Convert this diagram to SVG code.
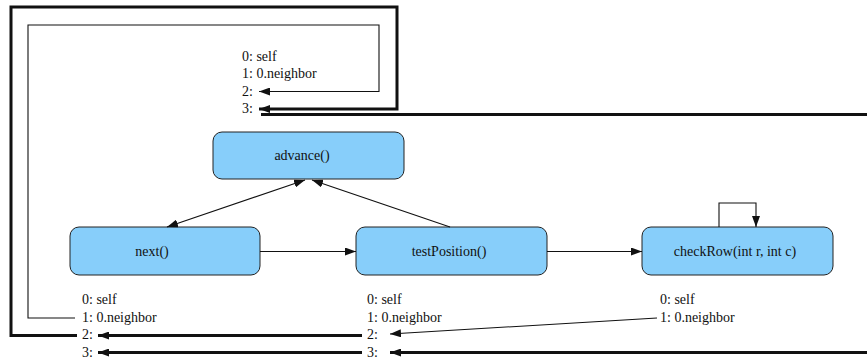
<svg xmlns="http://www.w3.org/2000/svg" width="867" height="362" viewBox="0 0 867 362">
  <style>
    .node rect { fill: #87cefa; stroke: #222; stroke-width: 1; }
    .node text, .slots text { font-family: "Liberation Serif", "Times New Roman", serif; font-size: 14px; fill: #111; }
    .node text { text-anchor: middle; }
    .thin { fill: none; stroke: #111; stroke-width: 1.1; }
    .thick { fill: none; stroke: #111; stroke-width: 3; }
  </style>
  <defs>
    <marker id="arrow" markerUnits="userSpaceOnUse" markerWidth="12" markerHeight="8" refX="11" refY="4" orient="auto">
      <path d="M0,0 L11,4 L0,8 Z" fill="#111"/>
    </marker>
    <marker id="arrow-start" markerUnits="userSpaceOnUse" markerWidth="12" markerHeight="8" refX="1" refY="4" orient="auto">
      <path d="M12,0 L1,4 L12,8 Z" fill="#111"/>
    </marker>
  </defs>

  <!-- slot tables -->
  <g class="slots" id="slots-advance">
    <text x="242" y="60.5">0: self</text>
    <text x="242" y="78">1: 0.neighbor</text>
    <text x="242" y="95.5">2:</text>
    <text x="242" y="113">3:</text>
  </g>
  <g class="slots" id="slots-next">
    <text x="82" y="304">0: self</text>
    <text x="82" y="321.5">1: 0.neighbor</text>
    <text x="82" y="339">2:</text>
    <text x="82" y="356.5">3:</text>
  </g>
  <g class="slots" id="slots-testPosition">
    <text x="367" y="304">0: self</text>
    <text x="367" y="321.5">1: 0.neighbor</text>
    <text x="367" y="339">2:</text>
    <text x="367" y="356.5">3:</text>
  </g>
  <g class="slots" id="slots-checkRow">
    <text x="660" y="304">0: self</text>
    <text x="660" y="321.5">1: 0.neighbor</text>
  </g>

  <!-- nodes -->
  <g class="node" id="advance">
    <rect x="213" y="132" width="191" height="47" rx="9"/>
    <text x="302" y="160">advance()</text>
  </g>
  <g class="node" id="next">
    <rect x="70" y="227" width="190" height="48" rx="9"/>
    <text x="152" y="256">next()</text>
  </g>
  <g class="node" id="testPosition">
    <rect x="356" y="227" width="191" height="48" rx="9"/>
    <text x="449" y="256">testPosition()</text>
  </g>
  <g class="node" id="checkRow">
    <rect x="642" y="227" width="191" height="48" rx="9"/>
    <text x="735" y="256">checkRow(int r, int c)</text>
  </g>

  <!-- connectors -->
  <g id="connectors">
    <!-- call edges -->
    <line class="thin" x1="167" y1="227" x2="305" y2="180" marker-start="url(#arrow-start)" marker-end="url(#arrow)"/>
    <line class="thin" x1="450" y1="227" x2="312" y2="180" marker-end="url(#arrow)"/>
    <line class="thin" x1="260" y1="251.5" x2="356" y2="251.5" marker-end="url(#arrow)"/>
    <line class="thin" x1="547" y1="251.5" x2="642" y2="251.5" marker-end="url(#arrow)"/>
    <polyline class="thin" points="719,227 719,203 756,203 756,227" marker-end="url(#arrow)"/>

    <!-- slot links -->
    <polyline class="thin" points="75,318 28,318 28,25 379,25 379,91.5 259,91.5" marker-end="url(#arrow)"/>
    <polyline class="thick" points="77,335.5 11,335.5 11,7 397,7 397,109 259,109" marker-end="url(#arrow)"/>
    <line class="thick" x1="261" y1="114.5" x2="867" y2="114.5"/>
    <line class="thick" x1="362" y1="335.5" x2="98" y2="335.5" marker-end="url(#arrow)"/>
    <line class="thick" x1="362" y1="352.5" x2="98" y2="352.5" marker-end="url(#arrow)"/>
    <line class="thin" x1="657" y1="318" x2="390" y2="334" marker-end="url(#arrow)"/>
    <line class="thick" x1="867" y1="352.5" x2="390" y2="352.5" marker-end="url(#arrow)"/>
  </g>
</svg>
